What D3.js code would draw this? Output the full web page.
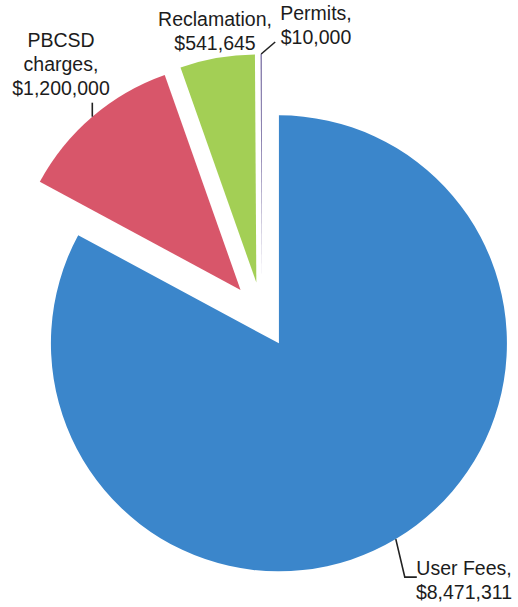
<!DOCTYPE html>
<html>
<head>
<meta charset="utf-8">
<script src="https://cdn.jsdelivr.net/npm/d3@7"></script>
<style>
  body { margin: 0; background: #fff; }
  text { font-family: "Liberation Sans", Arial, sans-serif; font-size: 19.5px; fill: #1c1c1c; }
</style>
</head>
<body>
<svg width="518" height="607"></svg>
<script>
// data
const categories = ['User Fees', 'PBCSD charges', 'Reclamation', 'Permits'];
const amounts = [8471311, 1200000, 541645, 10000];
const amountLabels = ['$8,471,311', '$1,200,000', '$541,645', '$10,000'];
const colors = ['#3b86cb', '#d8566a', '#a3cf55', '#7d72a6'];

const svg = d3.select('svg');

// pie layout (excel style, every slice pulled out a bit)
const cx = 262, cy = 315;
const radius = 228;
const explode = 33;

const pie = d3.pie().sort(null).value(d => d.value);
const arcs = pie(categories.map((c, i) => ({ name: c, value: amounts[i], label: amountLabels[i] })));
const arc = d3.arc().innerRadius(0).outerRadius(radius);

const mid = a => (a.startAngle + a.endAngle) / 2;
const offset = a => [explode * Math.sin(mid(a)), -explode * Math.cos(mid(a))];

const g = svg.append('g').attr('transform', `translate(${cx},${cy})`);

g.selectAll('path.slice')
    .data(arcs)
    .enter()
    .append('path')
    .attr('class', 'slice')
    .attr('transform', d => `translate(${offset(d)[0]},${offset(d)[1]})`)
    .attr('d', arc)
    .attr('fill', (d, i) => colors[i]);

// label layout: text anchor point + leader line bend (relative to slice edge point)
const labelLayout = [
    { x: 464, y: 575, lines: [[9, 38], [21, 38]] },   // User Fees
    { x: 61, y: 47, lines: [[0, -14]] },              // PBCSD
    { x: 215, y: 26, lines: null },                   // Reclamation
    { x: 316, y: 20, lines: [[14, -12]] }             // Permits
];

arcs.forEach(function (d, i) {
    const o = offset(d);
    const ex = o[0] + radius * Math.sin(mid(d));
    const ey = o[1] - radius * Math.cos(mid(d));
    const lay = labelLayout[i];
    if (lay.lines) {
        const pts = [[ex, ey]].concat(lay.lines.map(p => [ex + p[0], ey + p[1]]));
        g.append('path')
            .attr('d', d3.line()(pts))
            .attr('fill', 'none')
            .attr('stroke', '#222')
            .attr('stroke-width', 1.6);
    }
    const words = d.data.name === 'PBCSD charges'
        ? ['PBCSD', 'charges,', d.data.label]
        : [d.data.name + ',', d.data.label];
    const t = svg.append('text')
        .attr('text-anchor', 'middle')
        .attr('x', lay.x)
        .attr('y', lay.y);
    words.forEach(function (w, k) {
        t.append('tspan')
            .attr('x', lay.x)
            .attr('dy', k === 0 ? 0 : 24)
            .text(w);
    });
});
</script>
</body>
</html>
